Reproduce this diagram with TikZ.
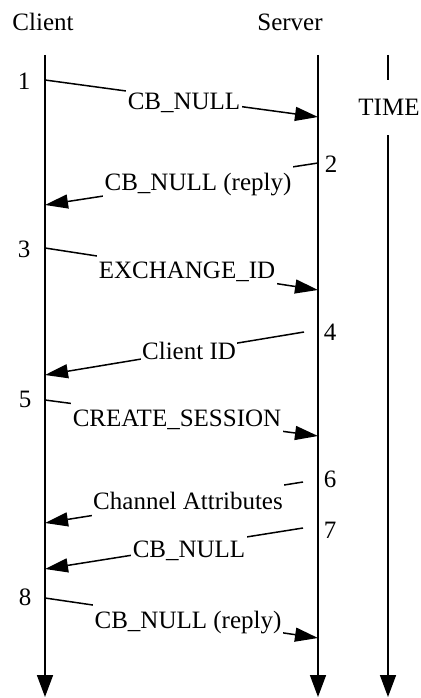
\documentclass[tikz,border=0pt]{standalone}
\usepackage{fontspec}
\setmainfont{Liberation Serif}
\usetikzlibrary{arrows.meta}
\tikzset{
  life/.style={line width=1.6pt, -{Triangle[length=22pt,width=16pt]}},
  msg/.style={line width=1.5pt, -{Triangle[length=23pt,width=14pt]}},
  lbl/.style={font=\fontsize{25}{28}\selectfont, anchor=base, fill=white, inner xsep=1.5pt, inner ysep=9pt},
  num/.style={font=\fontsize{25}{28}\selectfont, anchor=base, inner sep=0pt}
}
\begin{document}
\begin{tikzpicture}[x=1pt,y=-1pt]
\useasboundingbox[fill=white] (0,0) rectangle (420,698);
% headers
\node[num] (client) at (43,31) {Client};
\node[num] (server) at (290,31) {Server};
\node[num] (time) at (389,115) {TIME};
% lifelines
\coordinate (ct) at (45,55);
\coordinate (cb) at (45,697);
\coordinate (st) at (318,55);
\coordinate (sb) at (318,697);
\coordinate (tt) at (388,55);
\coordinate (tm1) at (388,80);
\coordinate (tm2) at (388,135);
\coordinate (tb) at (388,697);
\draw[life] (ct) -- (cb);
\draw[life] (st) -- (sb);
\draw[line width=1.6pt] (tt) -- (tm1);
\draw[life] (tm2) -- (tb);
% message endpoints
\coordinate (m1a) at (45,80);   \coordinate (m1b) at (318,117);
\coordinate (m2a) at (318,163); \coordinate (m2b) at (45,205);
\coordinate (m3a) at (45,248);  \coordinate (m3b) at (318,290);
\coordinate (m4a) at (304,332); \coordinate (m4b) at (45,375);
\coordinate (m5a) at (45,400);  \coordinate (m5b) at (318,436);
\coordinate (m6a) at (303,482); \coordinate (m6b) at (45,523);
\coordinate (m7a) at (303,528); \coordinate (m7b) at (45,569);
\coordinate (m8a) at (45,598);  \coordinate (m8b) at (318,638);
\foreach \i in {1,...,8} {\draw[msg] (m\i a) -- (m\i b);}
% labels
\node[lbl] (l1) at (184,110) {CB\_NULL};
\node[lbl] (l2) at (198,190) {CB\_NULL (reply)};
\node[lbl] (l3) at (187,278) {EXCHANGE\_ID};
\node[lbl] (l4) at (189,359) {Client ID};
\node[lbl] (l5) at (177,426) {CREATE\_SESSION};
\node[lbl] (l6) at (188,509) {Channel Attributes};
\node[lbl] (l7) at (189,557) {CB\_NULL};
\node[lbl] (l8) at (188,628) {CB\_NULL (reply)};
% numbers
\node[num] (n1) at (24,90) {1};
\node[num] (n2) at (331,172) {2};
\node[num] (n3) at (24,257) {3};
\node[num] (n4) at (330,340) {4};
\node[num] (n5) at (25,407) {5};
\node[num] (n6) at (330,487) {6};
\node[num] (n7) at (330,538) {7};
\node[num] (n8) at (25,605) {8};
\end{tikzpicture}
\end{document}
